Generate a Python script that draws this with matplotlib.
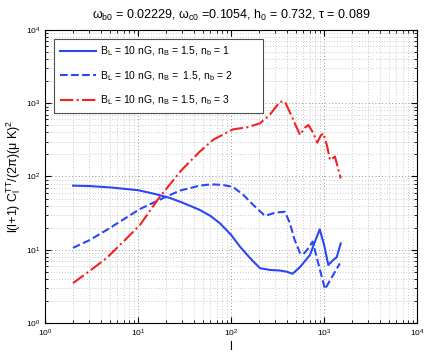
import matplotlib
matplotlib.use("Agg")
import matplotlib.pyplot as plt
import numpy as np

plt.rcParams['font.family'] = ['Liberation Sans', 'DejaVu Sans']
plt.rcParams['mathtext.default'] = 'regular'

# n_b = 1 (solid)
l1 = [2, 3, 5, 7, 10, 15, 22, 30, 46, 60, 76, 100, 125, 160, 205, 262, 336, 400, 460, 552, 707, 800, 900, 1000, 1112, 1250, 1368, 1514]
c1 = [75, 74, 71, 68, 65, 58, 51, 44, 35, 29, 23, 16, 11, 7.7, 5.6, 5.3, 5.2, 5.0, 4.7, 5.8, 8.5, 13, 19, 11.8, 6.2, 7.2, 7.9, 12.2]

# n_b = 2 (dashed)
l2 = [2, 3, 4.6, 7, 10.5, 17, 28, 46, 60, 80, 105, 136, 173, 232, 297, 380, 430, 480, 552, 600, 680, 755, 850, 1025, 1200, 1480]
c2 = [10.6, 13.5, 18.6, 26, 36, 48, 64, 75, 78, 77, 72, 56, 41, 29, 32, 33, 23, 14, 9, 8.7, 10.5, 12.9, 7.2, 2.9, 4.1, 6.5]

# n_b = 3 (dash-dot)
l3 = [2, 3, 4.6, 7, 10.5, 17, 29.5, 46, 65, 105, 150, 205, 260, 336, 380, 430, 552, 620, 678, 760, 847, 920, 984, 1080, 1160, 1310, 1514]
c3 = [3.5, 5.1, 7.7, 13, 21.8, 52, 123, 218, 320, 440, 470, 532, 690, 1050, 1050, 750, 369, 460, 505, 400, 290, 360, 390, 260, 168, 187, 94]

labels = [r'B$_L$ = 10 nG, n$_B$ = 1.5, n$_b$ = 1',
          r'B$_L$ = 10 nG, n$_B$ =  1.5, n$_b$ = 2',
          r'B$_L$ = 10 nG, n$_B$ = 1.5, n$_b$ = 3']

blue = '#2a46f5'
red = '#f52020'

fig = plt.figure(figsize=(4.27, 3.54), dpi=100)
ax = fig.add_axes([0.1054, 0.0876, 0.8712, 0.8277])

ax.loglog(l1, c1, '-', color=blue, lw=1.5, label=labels[0])
ax.loglog(l2, c2, '--', color=blue, lw=1.5, label=labels[1])
ax.loglog(l3, c3, '-.', color=red, lw=1.5, label=labels[2])

ax.set_xlim(1, 1e4)
ax.set_ylim(1, 1e4)
ax.grid(True, which='major', linestyle=(0, (1, 3)), color='0.45', linewidth=0.6)
ax.grid(True, which='minor', linestyle=(0, (1, 3)), color='0.6', linewidth=0.5)
ax.tick_params(which='both', direction='in', top=True, right=True, labelsize=6)
ax.tick_params(which='major', length=4)
ax.tick_params(which='minor', length=2)
for s in ax.spines.values():
    s.set_linewidth(0.8)

ax.set_title(r'$\omega_{b0}$ = 0.02229, $\omega_{c0}$ =0.1054, h$_0$ = 0.732, $\tau$ = 0.089',
             fontsize=9, pad=8)
ax.set_xlabel('l', fontsize=9, labelpad=1)
ax.set_ylabel(r'l(l+1) C$_l^{TT}$/(2$\pi$)($\mu$ K)$^2$', fontsize=9, labelpad=2)

leg = ax.legend(loc='upper left', bbox_to_anchor=(0.0242, 0.5, 0.562, 0.469),
                mode='expand', borderaxespad=0, fontsize=7.5,
                handlelength=3.5, handletextpad=0.4, borderpad=0.55, labelspacing=1.05,
                fancybox=False, framealpha=1, edgecolor='0.3')
leg.get_frame().set_linewidth(0.8)

fig.savefig('out.png', dpi=100)
